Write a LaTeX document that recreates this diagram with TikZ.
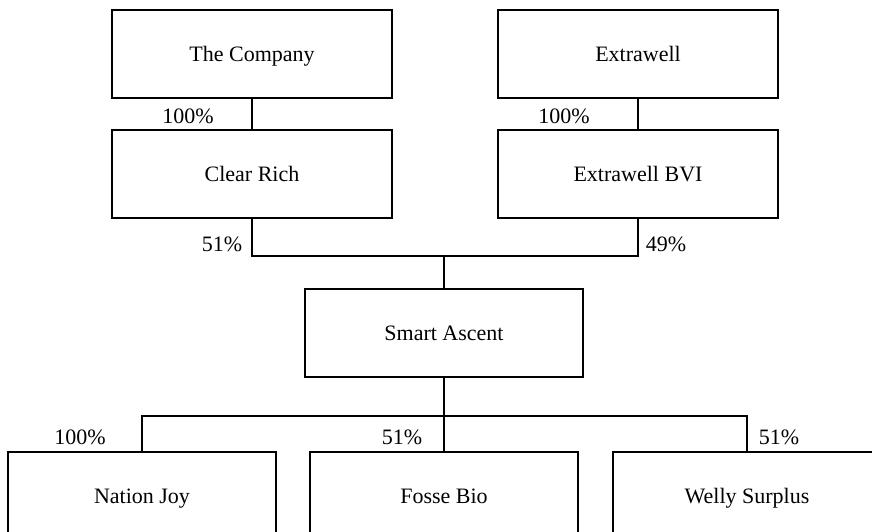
\documentclass[tikz,border=0pt]{standalone}
\usepackage{fontspec}
\setmainfont{Liberation Serif}
\tikzset{
  firm/.style={draw, line width=1.2pt, minimum width=280pt, minimum height=88pt, inner sep=0pt,
    text height=15pt, text depth=1pt},
  share/.style={inner sep=0pt},
  link/.style={line width=1.2pt}
}
\begin{document}
\begin{tikzpicture}[x=1pt, y=-1pt, font=\fontsize{22}{26}\selectfont]
\useasboundingbox (0, 0) rectangle (872, 531);
\clip (0, 0) rectangle (872, 531);
\node [firm] (company) at (252, 54) {The Company};
\node [firm] (extrawell) at (638, 54) {Extrawell};
\node [firm] (clearrich) at (252, 174) {Clear Rich};
\node [firm] (extrawellbvi) at (638, 174) {Extrawell BVI};
\node [firm, minimum width=278pt] (smart) at (444, 333) {Smart Ascent};
\node [firm, minimum width=268pt] (nation) at (142, 496) {Nation Joy};
\node [firm, minimum width=268pt] (fosse) at (444, 496) {Fosse Bio};
\node [firm, minimum width=268pt] (welly) at (747, 496) {Welly Surplus};
\coordinate (join) at (444, 256);
\coordinate (split) at (444, 416);
\node [share] () at (188, 116) {100\%};
\node [share] () at (564, 116) {100\%};
\node [share] () at (222, 244) {51\%};
\node [share] () at (666, 244) {49\%};
\node [share] () at (80, 437) {100\%};
\node [share] () at (402, 437) {51\%};
\node [share] () at (779, 437) {51\%};
\draw [link] (company) to (clearrich);
\draw [link] (extrawell) to (extrawellbvi);
\draw [link] (clearrich.south) |- (join) -| (extrawellbvi.south);
\draw [link] (join) to (smart.north);
\draw [link] (nation.north) |- (split) -| (welly.north);
\draw [link] (smart.south) to (fosse.north);
\end{tikzpicture}
\end{document}
